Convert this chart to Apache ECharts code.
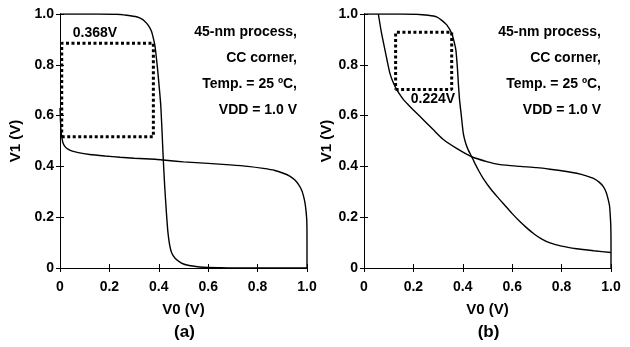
<!DOCTYPE html>
<html>
<head>
<meta charset="utf-8">
<script src="https://cdn.jsdelivr.net/npm/echarts@6/dist/echarts.min.js"></script>
<style>
  html, body { margin: 0; padding: 0; background: #fff; }
  #chart { width: 630px; height: 347px; }
</style>
</head>
<body>
<div id="chart"></div>
<script>
// panel (a): V1 vs V0 butterfly curves
const aCurve1 = [[0,1],[0.15,1],[0.229,0.999],[0.27,0.995],[0.31,0.989],[0.335,0.978],[0.351,0.963],[0.362,0.948],[0.371,0.93],[0.379,0.9],[0.385,0.871],[0.394,0.793],[0.401,0.72],[0.408,0.64],[0.413,0.54],[0.418,0.43],[0.424,0.32],[0.431,0.215],[0.437,0.14],[0.444,0.09],[0.452,0.06],[0.466,0.038],[0.49,0.02],[0.513,0.012],[0.55,0.006],[0.58,0.003],[0.65,0.001],[0.7,0],[1,0]]
const aCurve2 = [[0,0.63],[0.002,0.58],[0.004,0.543],[0.008,0.51],[0.013,0.49],[0.022,0.476],[0.034,0.467],[0.05,0.46],[0.074,0.454],[0.12,0.447],[0.182,0.441],[0.243,0.436],[0.3,0.432],[0.385,0.428],[0.418,0.425],[0.5,0.418],[0.6,0.412],[0.688,0.406],[0.76,0.4],[0.823,0.392],[0.87,0.384],[0.904,0.373],[0.93,0.362],[0.951,0.346],[0.966,0.328],[0.978,0.307],[0.986,0.283],[0.992,0.255],[0.996,0.225],[0.999,0.189],[1,0.12],[1,0]]
const aBox = [[0.007,0.517],[0.378,0.517],[0.378,0.885],[0.007,0.885],[0.007,0.517]]
const aBoxLabel = '0.368V'

// panel (b)
const bCurve1 = [[0,1],[0.15,1],[0.213,0.999],[0.26,0.995],[0.294,0.989],[0.315,0.975],[0.335,0.957],[0.355,0.924],[0.365,0.89],[0.372,0.858],[0.378,0.79],[0.382,0.727],[0.387,0.661],[0.394,0.6],[0.402,0.53],[0.412,0.49],[0.422,0.465],[0.436,0.438],[0.45,0.41],[0.465,0.382],[0.483,0.352],[0.51,0.315],[0.54,0.28],[0.57,0.247],[0.6,0.214],[0.63,0.184],[0.66,0.157],[0.69,0.133],[0.72,0.114],[0.753,0.099],[0.8,0.086],[0.86,0.076],[0.93,0.068],[1,0.061]]
const bCurve2 = [[0.058,1],[0.07,0.93],[0.085,0.858],[0.095,0.81],[0.105,0.766],[0.115,0.738],[0.126,0.714],[0.14,0.69],[0.159,0.664],[0.18,0.642],[0.2,0.622],[0.25,0.574],[0.281,0.544],[0.32,0.507],[0.375,0.471],[0.436,0.438],[0.497,0.419],[0.551,0.407],[0.632,0.4],[0.7,0.395],[0.753,0.389],[0.82,0.38],[0.861,0.373],[0.9,0.363],[0.929,0.353],[0.952,0.338],[0.969,0.32],[0.981,0.296],[0.989,0.268],[0.994,0.245],[0.996,0.222],[0.999,0.17],[1,0.1],[1,0]]
const bBox = [[0.128,0.703],[0.355,0.703],[0.355,0.928],[0.128,0.928],[0.128,0.703]]
const bBoxLabel = '0.224V'

const noteLines = ['45-nm process,', 'CC corner,', 'Temp. = 25 ºC,', 'VDD = 1.0 V']

const FONT = '"Liberation Sans", Arial, Helvetica, sans-serif'
const BOLD = 'bold 14px ' + FONT

const grids = [
  { left: 60, top: 14, width: 247, height: 254 },
  { left: 364, top: 14, width: 247, height: 254 },
]

const fmt = v => (v === 0 ? '0' : v.toFixed(1))

function mainX(gi) {
  return {
    type: 'value', gridIndex: gi, min: 0, max: 1, interval: 0.2, position: 'bottom',
    name: 'V0 (V)', nameLocation: 'middle', nameGap: 34,
    nameTextStyle: { color: '#000', fontWeight: 'bold', fontSize: 15, fontFamily: FONT },
    axisLine: { lineStyle: { color: '#000', width: 1 } },
    axisTick: { inside: true, length: 4, lineStyle: { color: '#000' } },
    axisLabel: { color: '#000', fontWeight: 'bold', fontSize: 14, fontFamily: FONT, margin: 12, formatter: fmt },
    splitLine: { show: false },
  }
}
function sideX(gi) {
  return {
    type: 'value', gridIndex: gi, min: 0, max: 1, interval: 0.2, position: 'top',
    axisLine: { lineStyle: { color: '#000', width: 1 } },
    axisTick: { inside: true, length: 4, lineStyle: { color: '#000' } },
    axisLabel: { show: false }, splitLine: { show: false },
  }
}
function mainY(gi, gap) {
  return {
    type: 'value', gridIndex: gi, min: 0, max: 1, interval: 0.2, position: 'left',
    name: 'V1 (V)', nameLocation: 'middle', nameGap: gap, nameRotate: 90,
    nameTextStyle: { color: '#000', fontWeight: 'bold', fontSize: 15, fontFamily: FONT },
    axisLine: { lineStyle: { color: '#000', width: 1 } },
    axisTick: { inside: true, length: 4, lineStyle: { color: '#000' } },
    axisLabel: { color: '#000', fontWeight: 'bold', fontSize: 14, fontFamily: FONT, margin: 6, formatter: fmt },
    splitLine: { show: false },
  }
}
function sideY(gi) {
  return {
    type: 'value', gridIndex: gi, min: 0, max: 1, interval: 0.2, position: 'right',
    axisLine: { lineStyle: { color: '#000', width: 1 } },
    axisTick: { inside: true, length: 4, lineStyle: { color: '#000' } },
    axisLabel: { show: false }, splitLine: { show: false },
  }
}

function curve(data, ai) {
  return {
    type: 'line', data, xAxisIndex: ai, yAxisIndex: ai, symbol: 'none', smooth: 0.2,
    lineStyle: { color: '#000', width: 1.4 }, silent: true, z: 3,
  }
}
function box(data, ai) {
  return {
    type: 'line', data, xAxisIndex: ai, yAxisIndex: ai, symbol: 'none',
    lineStyle: { color: '#000', width: 3, type: [3, 2.5], cap: 'butt' }, silent: true, z: 2,
  }
}

function text(str, x, y, align, font) {
  return {
    type: 'text', x, y,
    style: { text: str, font: font || BOLD, fill: '#000', textAlign: align || 'center', textVerticalAlign: 'middle' },
  }
}

const graphics = []
grids.forEach((g, i) => {
  noteLines.forEach((t, k) => graphics.push(text(t, g.left + g.width - 10, 32 + k * 26, 'right')))
  graphics.push(text(i === 0 ? '(a)' : '(b)', g.left + g.width / 2 + 1, 332, 'center', 'bold 17px ' + FONT))
})
graphics.push(text(aBoxLabel, 95, 33))
graphics.push(text(bBoxLabel, 433, 99))

const chart = echarts.init(document.getElementById('chart'), null, { renderer: 'canvas' })
chart.setOption({
  animation: false,
  backgroundColor: '#fff',
  grid: grids,
  xAxis: [mainX(0), sideX(0), mainX(1), sideX(1)],
  yAxis: [mainY(0, 37), sideY(0), mainY(1, 30), sideY(1)],
  series: [
    curve(aCurve1, 0), curve(aCurve2, 0), box(aBox, 0),
    curve(bCurve1, 2), curve(bCurve2, 2), box(bBox, 2),
  ],
  graphic: graphics,
})
</script>
</body>
</html>
